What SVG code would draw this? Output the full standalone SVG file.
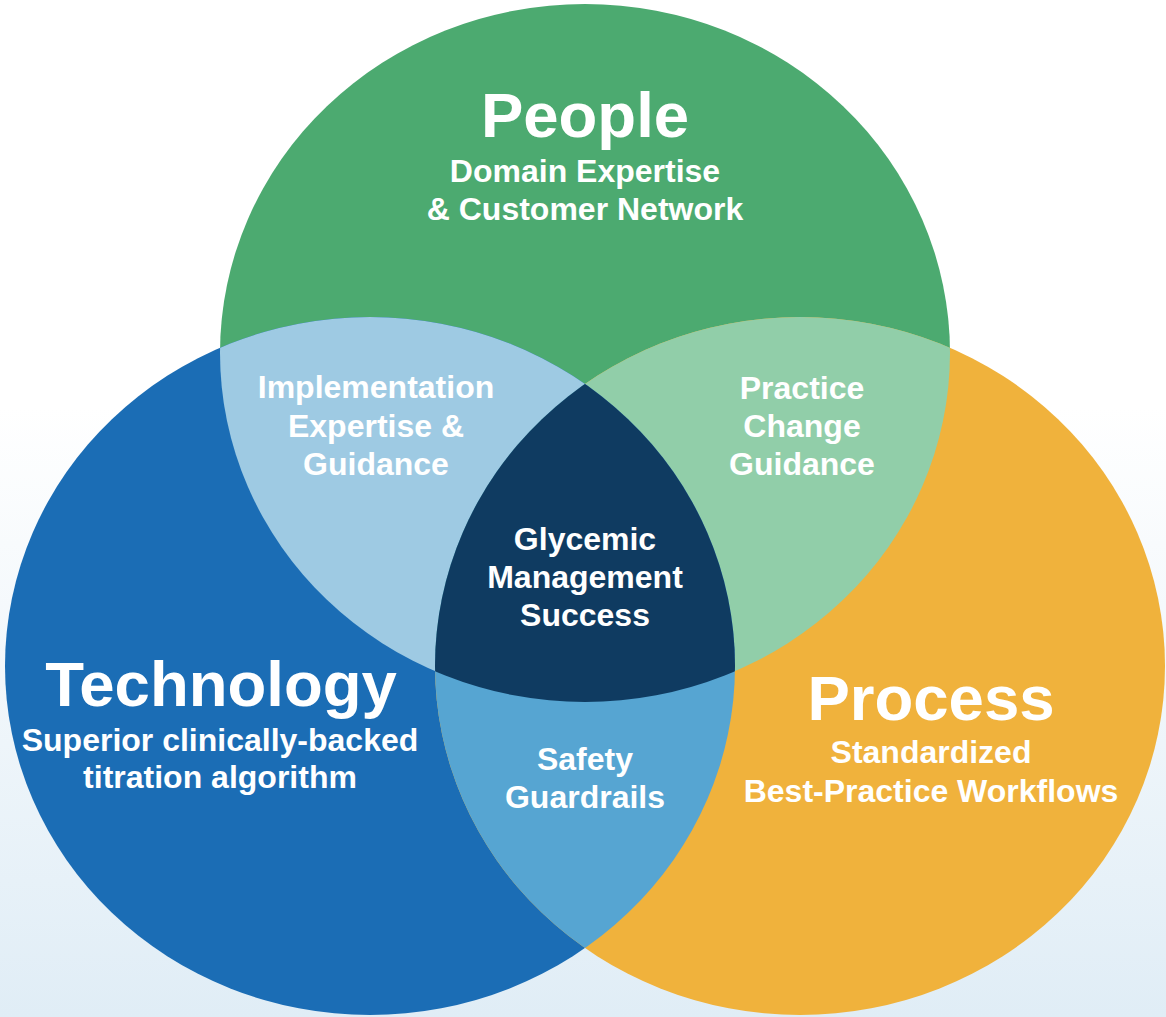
<svg xmlns="http://www.w3.org/2000/svg" width="1166" height="1017" viewBox="0 0 1166 1017">
  <style>
    text { font-family: "Liberation Sans", Arial, sans-serif; font-weight: bold; fill: #ffffff; text-anchor: middle; }
    .title { font-size: 63.5px; }
    .sub { font-size: 32px; }
    .lbl { font-size: 32px; }
  </style>
  <defs>
    <linearGradient id="bg" x1="0" y1="0" x2="0" y2="1">
      <stop offset="0.4" stop-color="#ffffff"/>
      <stop offset="1" stop-color="#e0edf6"/>
    </linearGradient>
    <clipPath id="clipTech"><ellipse cx="370" cy="666" rx="365" ry="349"/></clipPath>
    <clipPath id="clipProc"><ellipse cx="800" cy="666" rx="365" ry="349"/></clipPath>
    <clipPath id="clipPeople"><ellipse cx="585" cy="353" rx="365" ry="349"/></clipPath>
  </defs>
  <rect x="0" y="0" width="1166" height="1017" fill="url(#bg)"/>

  <g id="people"><ellipse cx="585" cy="353" rx="365" ry="349" fill="#4caa70"/></g>
  <g id="technology"><ellipse cx="370" cy="666" rx="365" ry="349" fill="#1b6db5"/></g>
  <g id="process"><ellipse cx="800" cy="666" rx="365" ry="349" fill="#f0b23c"/></g>

  <g id="people-technology"><ellipse cx="585" cy="353" rx="365" ry="349" fill="#9ecae3" clip-path="url(#clipTech)"/></g>
  <g id="people-process"><ellipse cx="585" cy="353" rx="365" ry="349" fill="#91cea9" clip-path="url(#clipProc)"/></g>
  <g id="technology-process"><ellipse cx="370" cy="666" rx="365" ry="349" fill="#56a5d2" clip-path="url(#clipProc)"/></g>
  <g id="center" clip-path="url(#clipTech)"><ellipse cx="585" cy="353" rx="365" ry="349" fill="#0f3b61" clip-path="url(#clipProc)"/></g>

  <g id="connectors"></g>

  <g id="labels">
    <text class="title" x="585" y="137">People</text>
    <text class="sub" x="585" y="182">Domain Expertise</text>
    <text class="sub" x="585" y="220">&amp; Customer Network</text>

    <text class="title" x="221" y="706">Technology</text>
    <text class="sub" x="220" y="751">Superior clinically-backed</text>
    <text class="sub" x="220" y="788">titration algorithm</text>

    <text class="title" x="931" y="720">Process</text>
    <text class="sub" x="931" y="763">Standardized</text>
    <text class="sub" x="931" y="802">Best-Practice Workflows</text>

    <text class="lbl" x="376" y="398">Implementation</text>
    <text class="lbl" x="376" y="437">Expertise &amp;</text>
    <text class="lbl" x="376" y="475">Guidance</text>

    <text class="lbl" x="802" y="399">Practice</text>
    <text class="lbl" x="802" y="437">Change</text>
    <text class="lbl" x="802" y="475">Guidance</text>

    <text class="lbl" x="585" y="550">Glycemic</text>
    <text class="lbl" x="585" y="588">Management</text>
    <text class="lbl" x="585" y="626">Success</text>

    <text class="lbl" x="585" y="770">Safety</text>
    <text class="lbl" x="585" y="808">Guardrails</text>
  </g>
</svg>
